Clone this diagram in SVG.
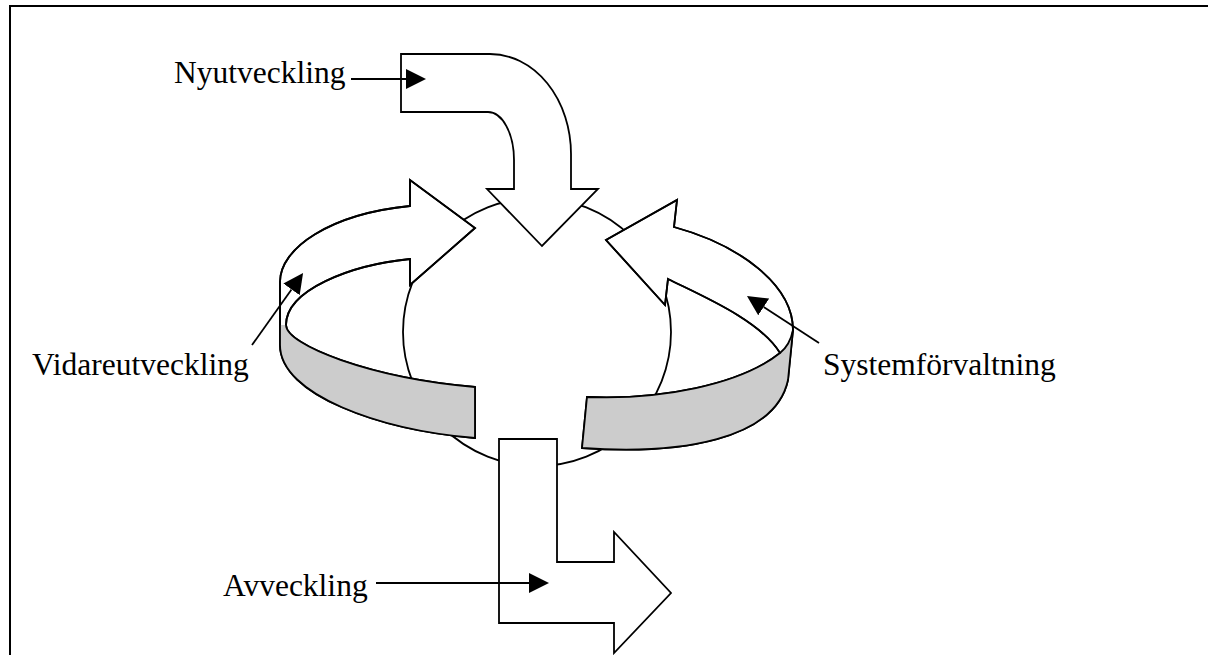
<svg xmlns="http://www.w3.org/2000/svg" width="1208" height="655" viewBox="0 0 1208 655">
  <style>
    .frame { fill: none; stroke: #000; stroke-width: 2; }
    .shape { fill: #fff; stroke: #000; stroke-width: 1.8; stroke-linejoin: miter; }
    .band { fill: #cccccc; stroke: none; }
    .edge { fill: none; stroke: #000; stroke-width: 1.8; }
    .link { fill: none; stroke: #000; stroke-width: 1.8; marker-end: url(#head); }
    .label { font-family: "Liberation Serif", "Times New Roman", serif; font-size: 31.5px; fill: #000; }
  </style>
  <defs>
    <marker id="head" viewBox="0 0 20 20" refX="0" refY="10" markerWidth="20" markerHeight="20" markerUnits="userSpaceOnUse" orient="auto">
      <path d="M0,0 L20,10 L0,20 Z" fill="#000"/>
    </marker>
  </defs>

  <rect width="1208" height="655" fill="#fff"/>
  <path class="frame" d="M10,655 V6 H1208"/>

  <!-- central system -->
  <g id="system">
    <circle class="shape" cx="537" cy="332" r="134"/>
  </g>

  <!-- new development: bent arrow entering from the top -->
  <g id="nyutveckling-arrow">
    <path class="shape" d="M401,54 H490 A81,100 0 0 1 571,154 V189 H598 L542,246 L487,189 H514 V160 A26,48 0 0 0 488,112 H401 Z"/>
  </g>

  <!-- further development: ribbon arrow round the left side -->
  <g id="vidareutveckling-arrow">
    <path class="shape" d="M475,438 C380,430 280,395 280,345 V282 C280,248 330,214 410,206 V180 L475,228 L410,285 V259 C350,265 286,290 286,325 C286,345 370,378 475,387 Z"/>
    <path class="band" d="M286,325 C286,345 370,378 475,387 V438 C380,430 280,395 280,345 V325 Z"/>
    <path class="edge" d="M475,438 C380,430 280,395 280,345 V282 C280,248 330,214 410,206 V180 L475,228 L410,285 V259 C350,265 286,290 286,325 C286,345 370,378 475,387 Z"/>
  </g>

  <!-- maintenance: ribbon arrow round the right side -->
  <g id="systemforvaltning-arrow">
    <path class="shape" d="M582,448 C680,455 775,440 788,380 L793,330 C793,285 740,245 674,227 L677,200 L606,240 L665,305 L668,279 C700,295 760,320 780,353 C740,385 660,400 587,397 Z"/>
    <path class="band" d="M793,330 Q790,345 780,353 C740,385 660,400 587,397 L582,448 C680,455 775,440 788,380 Z"/>
    <path class="edge" d="M582,448 C680,455 775,440 788,380 L793,330 C793,285 740,245 674,227 L677,200 L606,240 L665,305 L668,279 C700,295 760,320 780,353 C740,385 660,400 587,397 Z"/>
    <path class="edge" d="M793,330 Q790,345 780,353"/>
  </g>

  <!-- phase-out: bent arrow leaving at the bottom -->
  <g id="avveckling-arrow">
    <path class="shape" d="M499,439 H557 V562 H614 V532 L671,593 L614,653 V623 H499 Z"/>
  </g>

  <!-- label pointers -->
  <g id="connectors">
    <path class="link" d="M351,79 H406"/>
    <path class="link" d="M252,345 L291.5,289.4"/>
    <path class="link" d="M819,343 L763.7,306.9"/>
    <path class="link" d="M376,583 H529"/>
  </g>

  <g id="label-nyutveckling"><text class="label" x="174" y="83">Nyutveckling</text></g>
  <g id="label-vidareutveckling"><text class="label" x="32" y="375">Vidareutveckling</text></g>
  <g id="label-systemforvaltning"><text class="label" x="823" y="375">Systemförvaltning</text></g>
  <g id="label-avveckling"><text class="label" x="223" y="596">Avveckling</text></g>
</svg>
